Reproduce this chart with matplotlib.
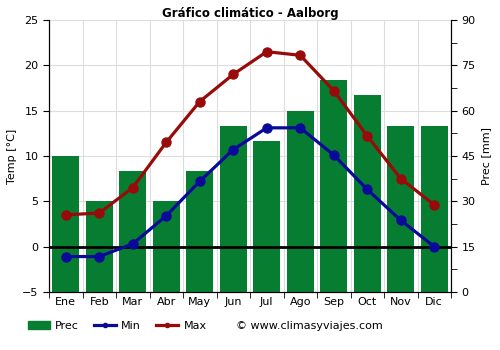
import matplotlib
matplotlib.use("Agg")
import matplotlib.pyplot as plt
from matplotlib.patches import Patch
from matplotlib.lines import Line2D
import numpy as np

months = ["Ene", "Feb", "Mar", "Abr", "May", "Jun", "Jul", "Ago", "Sep", "Oct", "Nov", "Dic"]
prec = [45, 30, 40, 30, 40, 55, 50, 60, 70, 65, 55, 55]
tmin = [-1.1, -1.1, 0.3, 3.4, 7.2, 10.7, 13.1, 13.1, 10.1, 6.3, 2.9, 0.0]
tmax = [3.5, 3.7, 6.5, 11.5, 16.0, 19.0, 21.5, 21.1, 17.2, 12.2, 7.5, 4.6]

green = "#077d32"
blue = "#0a0a9a"
red = "#990a0a"

fig = plt.figure(figsize=(5, 3.5), dpi=100)
ax = fig.add_axes([0.098, 0.166, 0.804, 0.777])
ax2 = ax.twinx()

x = np.arange(len(months))
ax.set_zorder(ax2.get_zorder() + 1)
ax.patch.set_visible(False)

ax2.bar(x, prec, width=0.8, color=green, zorder=2)
ax2.set_ylim(0, 90)
ax2.set_yticks(np.arange(0, 91, 15))
ax2.set_yticks(np.arange(0, 91, 7.5), minor=True)
ax2.set_ylabel("Prec [mm]", fontsize=8)
ax2.tick_params(axis="y", labelsize=8, length=4)
ax2.tick_params(axis="y", which="minor", length=4)
for a in (ax, ax2):
    a.spines["top"].set_visible(False)

ax.set_xlim(-0.5, 11.5)
ax.set_ylim(-5, 25)
ax.set_yticks(np.arange(-5, 26, 5))
ax.set_ylabel("Temp [°C]", fontsize=8)
ax.tick_params(axis="y", labelsize=8, length=4)
ax.set_xticks(x)
ax.set_xticklabels(months, fontsize=8)
ax.tick_params(axis="x", length=0)
ax.set_xticks(np.arange(-0.5, 12, 1), minor=True)
ax.tick_params(axis="x", which="minor", length=4)

# grid drawn on ax2 (behind bars)
for yv in np.arange(-5, 26, 5):
    ax2.axhline((yv + 5) * 3, color="#dddddd", lw=0.8, zorder=0)
for xv in np.arange(-0.5, 12, 1):
    ax2.axvline(xv, color="#dddddd", lw=0.8, zorder=0)

ax.axhline(0, color="black", lw=2, zorder=3)
ax.plot(x, tmin, color=blue, lw=2.3, marker="o", ms=6.5, zorder=5)
ax.plot(x, tmax, color=red, lw=2.3, marker="o", ms=6.5, zorder=5)

ax.set_title("Gráfico climático - Aalborg", fontsize=8.5, fontweight="bold", pad=2)

handles = [
    Patch(color=green),
    Line2D([0], [0], color=blue, lw=2.3, marker="o", ms=3),
    Line2D([0], [0], color=red, lw=2.3, marker="o", ms=3),
]
fig.legend(handles, ["Prec", "Min", "Max"], loc="center left", bbox_to_anchor=(0.035, 0.068),
           ncol=3, frameon=False, fontsize=8, handlelength=2.0, columnspacing=1.3, handletextpad=0.5)
fig.text(0.472, 0.068, "© www.climasyviajes.com", fontsize=8, va="center", ha="left")

fig.savefig("out.png", dpi=100)
